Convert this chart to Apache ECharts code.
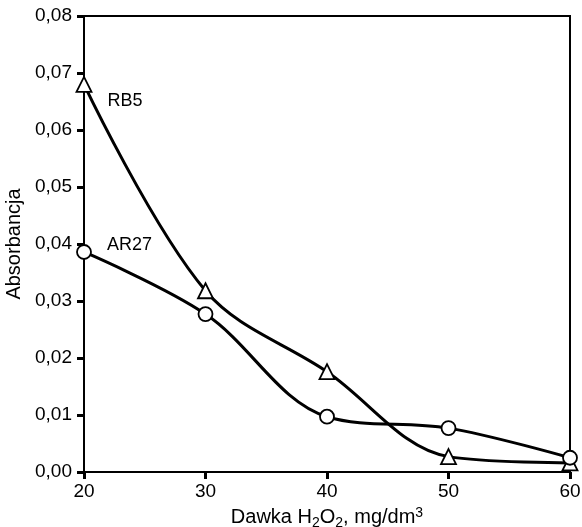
<!DOCTYPE html>
<html><head><meta charset="utf-8">
<script src="https://cdn.jsdelivr.net/npm/echarts@6/dist/echarts.min.js"></script>
<style>html,body{margin:0;padding:0;background:#fff}#c{width:582px;height:527px}</style>
</head><body><div id="c"></div>
<script>
var doses = [20, 30, 40, 50, 60];
var rb5 = [0.068, 0.0318, 0.0176, 0.0027, 0.0016];
var ar27 = [0.0386, 0.0277, 0.0097, 0.0077, 0.0025];
var yTicks = [0, 0.01, 0.02, 0.03, 0.04, 0.05, 0.06, 0.07, 0.08];

var chart = echarts.init(document.getElementById('c'));
var font = 'Liberation Sans, Arial, sans-serif';
function pairs(v){ return doses.map(function(d,i){ return [d, v[i]]; }); }
chart.setOption({
  animation: false,
  grid: {left: 84, top: 16, right: 12, bottom: 55, show: true, borderColor: '#000', borderWidth: 2,
         outerBoundsMode: 'none', containLabel: false},
  xAxis: {
    type: 'value', min: 20, max: 60, interval: 10,
    axisLine: {lineStyle: {color: '#000', width: 2}},
    axisTick: {inside: false, length: 7, lineStyle: {color: '#000', width: 3}},
    axisLabel: {color: '#000', fontSize: 19, fontFamily: font, margin: 10},
    splitLine: {show: false},
    name: '{n|Dawka H}{s|2}{n|O}{s|2}{n|, mg/dm}{p|3}',
    nameLocation: 'middle', nameGap: 21,
    nameTextStyle: {rich: {
      n: {fontSize: 20, fontFamily: font, color: '#000'},
      s: {fontSize: 14, fontFamily: font, color: '#000', padding: [10,0,0,0]},
      p: {fontSize: 14, fontFamily: font, color: '#000', padding: [0,0,10,0]}
    }}
  },
  yAxis: {
    type: 'value', min: 0, max: 0.08, interval: 0.01,
    axisLine: {lineStyle: {color: '#000', width: 2}},
    axisTick: {inside: false, length: 7, lineStyle: {color: '#000', width: 3}},
    axisLabel: {color: '#000', fontSize: 19, fontFamily: font, margin: 12,
      formatter: function(v){ return v.toFixed(2).replace('.', ','); }},
    splitLine: {show: false},
    name: 'Absorbancja', nameLocation: 'middle', nameGap: 57,
    nameTextStyle: {color: '#000', fontSize: 20, fontFamily: font}
  },
  series: [
    {name: 'RB5', type: 'line', smooth: 0.35, data: pairs(rb5),
     symbol: 'triangle', symbolSize: 15,
     lineStyle: {color: '#000', width: 3},
     itemStyle: {color: '#fff', borderColor: '#000', borderWidth: 1.8},
     label: {show: true, formatter: function(p){ return p.dataIndex === 0 ? 'RB5' : ''; },
       position: 'right', offset: [10, 17], color: '#000', fontSize: 18, fontFamily: font}},
    {name: 'AR27', type: 'line', smooth: 0.35, data: pairs(ar27),
     symbol: 'circle', symbolSize: 14,
     lineStyle: {color: '#000', width: 3},
     itemStyle: {color: '#fff', borderColor: '#000', borderWidth: 1.8},
     label: {show: true, formatter: function(p){ return p.dataIndex === 0 ? 'AR27' : ''; },
       position: 'right', offset: [10, -7], color: '#000', fontSize: 18, fontFamily: font}}
  ]
});
</script></body></html>
